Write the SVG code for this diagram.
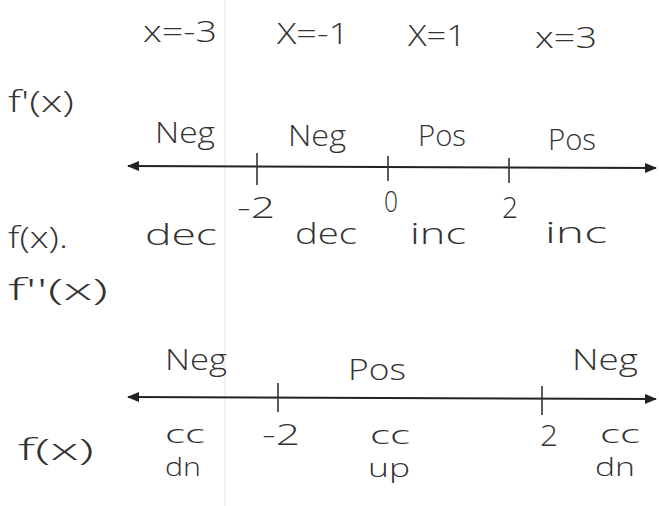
<svg xmlns="http://www.w3.org/2000/svg" width="659" height="506" viewBox="0 0 659 506">
<style>
text{font-family:"Open Sans","Liberation Sans",sans-serif;font-weight:300;fill:#333;font-size:30px}
.sm{font-size:25px}
.ax{stroke:#222;stroke-width:2;fill:none}
.tk{stroke:#333;stroke-width:1.6}
</style>
<defs>
<marker id="ah" viewBox="0 0 12 10" refX="11" refY="5" markerWidth="12" markerHeight="10" markerUnits="userSpaceOnUse" orient="auto-start-reverse">
<path d="M0,0 L12,5 L0,10 z" fill="#222"/>
</marker>
</defs>
<rect width="659" height="506" fill="#fff"/>
<line x1="225" y1="0" x2="225" y2="506" stroke="#f3f3f3" stroke-width="2"/>
<g id="header">
<text x="143" y="42" textLength="74" lengthAdjust="spacingAndGlyphs">x=-3</text>
<text x="277" y="44" textLength="72" lengthAdjust="spacingAndGlyphs">X=-1</text>
<text x="408" y="46" textLength="58" lengthAdjust="spacingAndGlyphs">X=1</text>
<text x="535" y="48" textLength="62" lengthAdjust="spacingAndGlyphs">x=3</text>
</g>
<g id="row1-labels">
<text x="8" y="112" textLength="66" lengthAdjust="spacingAndGlyphs">f'(x)</text>
<text x="8" y="248" textLength="60" lengthAdjust="spacingAndGlyphs">f(x).</text>
</g>
<g id="connectors">
<line class="ax" x1="128" y1="166" x2="656" y2="168" marker-start="url(#ah)" marker-end="url(#ah)"/>
<line class="ax" x1="128" y1="397" x2="656" y2="399" marker-start="url(#ah)" marker-end="url(#ah)"/>
</g>
<g id="line1-ticks">
<line class="tk" x1="257" y1="153" x2="257" y2="185"/>
<line class="tk" x1="388" y1="156" x2="388" y2="181"/>
<line class="tk" x1="509" y1="158" x2="509" y2="183"/>
</g>
<g id="line1-signs">
<text x="155" y="143" textLength="60" lengthAdjust="spacingAndGlyphs">Neg</text>
<text x="288" y="146" textLength="58" lengthAdjust="spacingAndGlyphs">Neg</text>
<text x="418" y="146" textLength="48" lengthAdjust="spacingAndGlyphs">Pos</text>
<text x="548" y="150" textLength="48" lengthAdjust="spacingAndGlyphs">Pos</text>
</g>
<g id="line1-values">
<text x="237" y="218" textLength="38" lengthAdjust="spacingAndGlyphs">-2</text>
<text x="384" y="212" font-size="20" textLength="14" lengthAdjust="spacingAndGlyphs">0</text>
<text x="502" y="218" textLength="16" lengthAdjust="spacingAndGlyphs">2</text>
</g>
<g id="line1-behaviour">
<text x="145" y="245" textLength="72" lengthAdjust="spacingAndGlyphs">dec</text>
<text x="295" y="244" textLength="62" lengthAdjust="spacingAndGlyphs">dec</text>
<text x="410" y="244" textLength="56" lengthAdjust="spacingAndGlyphs">inc</text>
<text x="545" y="243" textLength="62" lengthAdjust="spacingAndGlyphs">inc</text>
</g>
<g id="row2-labels">
<text x="8" y="300" textLength="100" lengthAdjust="spacingAndGlyphs">f''(x)</text>
<text x="18" y="460" textLength="76" lengthAdjust="spacingAndGlyphs">f(x)</text>
</g>
<g id="line2-ticks">
<line class="tk" x1="278" y1="383" x2="278" y2="412"/>
<line class="tk" x1="542" y1="386" x2="542" y2="415"/>
</g>
<g id="line2-signs">
<text x="165" y="370" textLength="62" lengthAdjust="spacingAndGlyphs">Neg</text>
<text x="348" y="380" textLength="58" lengthAdjust="spacingAndGlyphs">Pos</text>
<text x="572" y="370" textLength="66" lengthAdjust="spacingAndGlyphs">Neg</text>
</g>
<g id="line2-values">
<text x="262" y="445" textLength="38" lengthAdjust="spacingAndGlyphs">-2</text>
<text x="540" y="446" textLength="18" lengthAdjust="spacingAndGlyphs">2</text>
</g>
<g id="line2-concavity">
<text class="sm" x="165" y="443" textLength="40" lengthAdjust="spacingAndGlyphs">cc</text>
<text class="sm" x="165" y="476" textLength="36" lengthAdjust="spacingAndGlyphs">dn</text>
<text class="sm" x="370" y="444" textLength="40" lengthAdjust="spacingAndGlyphs">cc</text>
<text class="sm" x="368" y="477" textLength="42" lengthAdjust="spacingAndGlyphs">up</text>
<text class="sm" x="600" y="443" textLength="40" lengthAdjust="spacingAndGlyphs">cc</text>
<text class="sm" x="595" y="476" textLength="40" lengthAdjust="spacingAndGlyphs">dn</text>
</g>
</svg>
